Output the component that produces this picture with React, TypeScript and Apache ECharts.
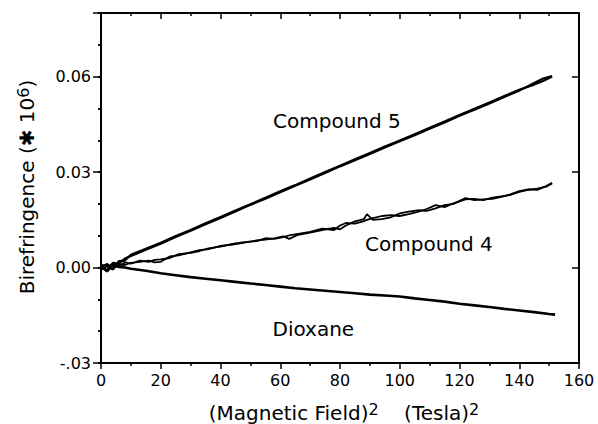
import React, { useEffect, useRef } from 'react';
import * as echarts from 'echarts';

const FONT = 'DejaVu Sans';

// X ticks / range
const xMin = 0;
const xMax = 160;
const xInterval = 20;

// Y ticks / range
const yMin = -0.03;
const yMax = 0.08;
const yTickValues = [-0.03, 0, 0.03, 0.06];
const yTickLabels = ['-.03', '0.00', '0.03', '0.06'];

// Compound 5 (two overlapping traces)
const x5 = [0, 2, 4, 6, 8, 10, 15, 20, 25, 30, 35, 40, 45, 50, 55, 60, 65, 70, 75, 80, 85, 90, 95, 100, 105, 110, 115, 120, 125, 130, 135, 140, 145, 148, 151];
const c5a = [0.0, -0.0008, 0.0015, 0.0012, 0.0028, 0.0036, 0.0056, 0.0075, 0.0096, 0.0116, 0.0136, 0.0156, 0.0176, 0.0197, 0.0216, 0.0237, 0.0257, 0.0277, 0.0297, 0.0318, 0.0337, 0.0357, 0.0377, 0.0397, 0.0416, 0.0436, 0.0456, 0.0477, 0.0496, 0.0516, 0.0536, 0.0556, 0.0580, 0.0594, 0.0602];
const c5b = [0.0008, 0.0005, -0.0006, 0.0020, 0.0022, 0.0040, 0.0059, 0.0078, 0.0099, 0.0118, 0.0139, 0.0159, 0.0179, 0.0199, 0.0219, 0.0240, 0.0259, 0.0280, 0.0300, 0.0320, 0.0340, 0.0360, 0.0380, 0.0399, 0.0419, 0.0439, 0.0459, 0.0479, 0.0499, 0.0519, 0.0539, 0.0559, 0.0575, 0.0586, 0.0600];

// Compound 4 (two overlapping traces)
const x4 = [0, 2, 4, 6, 8, 10, 13, 16, 18, 20, 23, 26, 30, 33, 36, 40, 44, 48, 52, 55, 58, 61, 63, 66, 70, 74, 78, 80, 82, 85, 88, 89, 91, 94, 97, 100, 103, 106, 109, 112, 115, 118, 122, 125, 128, 131, 134, 137, 140, 143, 146, 149, 151];
const c4a = [0.0, 0.0012, -0.0005, 0.0010, 0.0008, 0.0015, 0.0018, 0.0022, 0.0016, 0.0018, 0.0035, 0.0038, 0.0048, 0.0055, 0.0058, 0.0068, 0.0072, 0.0078, 0.0085, 0.0088, 0.0092, 0.0098, 0.0090, 0.0103, 0.0110, 0.0118, 0.0125, 0.0120, 0.0132, 0.0145, 0.0152, 0.0168, 0.0150, 0.0152, 0.0158, 0.0170, 0.0176, 0.0180, 0.0178, 0.0186, 0.0196, 0.0200, 0.0218, 0.0212, 0.0214, 0.0216, 0.0222, 0.0230, 0.0240, 0.0246, 0.0244, 0.0256, 0.0266];
const c4b = [-0.0008, 0.0004, 0.0010, 0.0004, 0.0016, 0.0012, 0.0022, 0.0018, 0.0024, 0.0026, 0.0030, 0.0042, 0.0046, 0.0052, 0.0060, 0.0066, 0.0074, 0.0080, 0.0083, 0.0092, 0.0090, 0.0096, 0.0101, 0.0106, 0.0112, 0.0122, 0.0118, 0.0132, 0.0140, 0.0138, 0.0146, 0.0150, 0.0155, 0.0162, 0.0165, 0.0162, 0.0168, 0.0175, 0.0184, 0.0196, 0.0190, 0.0202, 0.0214, 0.0216, 0.0212, 0.0220, 0.0224, 0.0228, 0.0238, 0.0244, 0.0248, 0.0254, 0.0264];

// Dioxane
const xd = [0, 2, 4, 6, 8, 10, 15, 20, 25, 30, 35, 40, 45, 50, 55, 60, 65, 70, 75, 80, 85, 90, 95, 100, 105, 110, 115, 120, 125, 130, 135, 140, 145, 150, 152];
const dio = [0.0005, -0.0012, 0.0008, 0.0002, 0.0, -0.0004, -0.0010, -0.0018, -0.0024, -0.0030, -0.0035, -0.0040, -0.0045, -0.0050, -0.0055, -0.0060, -0.0065, -0.0069, -0.0073, -0.0077, -0.0081, -0.0085, -0.0088, -0.0091, -0.0097, -0.0102, -0.0107, -0.0114, -0.0119, -0.0124, -0.0130, -0.0135, -0.0140, -0.0146, -0.0148];

// Curve labels (anchored in data coordinates)
const curveLabels = ['Compound 5', 'Compound 4', 'Dioxane'];
const labelX = [57.6, 88.4, 57.4];
const labelY = [0.0462, 0.0075, -0.0192];

const pairs = (xs: number[], ys: number[]) => xs.map((x, i) => [x, ys[i]]);

export default function App() {
  const ref = useRef<HTMLDivElement>(null);
  useEffect(() => {
    if (!ref.current) return;
    const chart = echarts.init(ref.current, undefined, { renderer: 'svg' });
    const black = '#000';
    const lineSeries = (name: string, xs: number[], ys: number[], w: number) => ({
      name,
      type: 'line',
      data: pairs(xs, ys),
      showSymbol: false,
      symbol: 'none',
      lineStyle: { color: black, width: w },
      xAxisIndex: 0,
      yAxisIndex: 0,
      z: 3,
    });
    const yFormatter = (v: number) => {
      const k = Math.round(v * 100);
      const idx = yTickValues.findIndex((t) => Math.round(t * 100) === k);
      return idx >= 0 ? yTickLabels[idx] : '';
    };
    const baseY = {
      type: 'value',
      min: yMin,
      max: yMax,
      splitLine: { show: false },
    };
    chart.setOption({
      animation: false,
      grid: { left: 101, right: 19, top: 13, bottom: 61, containLabel: false },
      xAxis: [
        {
          type: 'value',
          position: 'bottom',
          min: xMin,
          max: xMax,
          interval: xInterval,
          splitLine: { show: false },
          axisLine: { show: true, onZero: false, lineStyle: { color: black, width: 2 } },
          axisTick: { show: true, inside: false, length: 6, lineStyle: { color: black, width: 1.5 } },
          minorTick: { show: true, splitNumber: 2, length: 3, lineStyle: { color: black, width: 1.5 } },
          axisLabel: { color: black, fontSize: 16, fontFamily: FONT, margin: 9 },
        },
        {
          type: 'value',
          position: 'top',
          min: xMin,
          max: xMax,
          interval: xInterval,
          splitLine: { show: false },
          axisLine: { show: true, onZero: false, lineStyle: { color: black, width: 2 } },
          axisTick: { show: true, inside: true, length: 6, lineStyle: { color: black, width: 1.5 } },
          minorTick: { show: true, splitNumber: 2, length: 3, lineStyle: { color: black, width: 1.5 } },
          axisLabel: { show: false },
        },
      ],
      yAxis: [
        {
          ...baseY,
          position: 'left',
          interval: 0.03,
          axisLine: { show: true, onZero: false, lineStyle: { color: black, width: 2 } },
          axisTick: { show: true, inside: false, length: 8, lineStyle: { color: black, width: 1.5 } },
          axisLabel: { color: black, fontSize: 16, fontFamily: FONT, margin: 10, formatter: yFormatter },
        },
        {
          ...baseY,
          position: 'left',
          interval: 0.01,
          axisLine: { show: false },
          axisTick: { show: true, inside: false, length: 3, lineStyle: { color: black, width: 1.5 } },
          axisLabel: { show: false },
        },
        {
          ...baseY,
          position: 'right',
          interval: 0.03,
          axisLine: { show: true, onZero: false, lineStyle: { color: black, width: 2 } },
          axisTick: { show: true, inside: true, length: 7, lineStyle: { color: black, width: 1.5 } },
          axisLabel: { show: false },
        },
        {
          ...baseY,
          position: 'right',
          interval: 0.01,
          axisLine: { show: false },
          axisTick: { show: true, inside: true, length: 3, lineStyle: { color: black, width: 1.5 } },
          axisLabel: { show: false },
        },
      ],
      series: [
        lineSeries('Compound 5 a', x5, c5a, 2.2),
        lineSeries('Compound 5 b', x5, c5b, 2.2),
        lineSeries('Compound 4 a', x4, c4a, 1.8),
        lineSeries('Compound 4 b', x4, c4b, 1.8),
        lineSeries('Dioxane', xd, dio, 2.6),
        {
          type: 'scatter',
          xAxisIndex: 0,
          yAxisIndex: 0,
          symbolSize: 0,
          itemStyle: { color: black, opacity: 1 },
          data: curveLabels.map((n, i) => ({ value: [labelX[i], labelY[i]], name: n })),
          label: {
            show: true,
            position: 'right',
            distance: 0,
            formatter: (p: any) => p.name,
            color: black,
            opacity: 1,
            fontSize: 20,
            fontFamily: FONT,
          },
          emphasis: { disabled: true },
          z: 5,
        },
      ],
      graphic: [
        {
          type: 'text',
          x: 344,
          y: 413,
          style: {
            text: '{m|(Magnetic Field)}{s|2}{m|    (Tesla)}{s|2}',
            align: 'center',
            verticalAlign: 'middle',
            fill: black,
            rich: {
              m: { fontSize: 20, fontFamily: FONT, fill: black, lineHeight: 24 },
              s: { fontSize: 16, fontFamily: FONT, fill: black, lineHeight: 24, verticalAlign: 'top' },
            },
          },
        },
        {
          type: 'text',
          x: 27,
          y: 187,
          rotation: Math.PI / 2,
          style: {
            text: '{m|Birefringence (\u2731 10}{s|6}{m|)}',
            align: 'center',
            verticalAlign: 'middle',
            fill: black,
            rich: {
              m: { fontSize: 20, fontFamily: FONT, fill: black, lineHeight: 24 },
              s: { fontSize: 16, fontFamily: FONT, fill: black, lineHeight: 24, verticalAlign: 'top' },
            },
          },
        },
      ],
    });
    return () => chart.dispose();
  }, []);
  return (
    <div
      ref={ref}
      style={{ position: 'fixed', left: 0, top: 0, width: 598, height: 424, background: '#fff' }}
    />
  );
}
